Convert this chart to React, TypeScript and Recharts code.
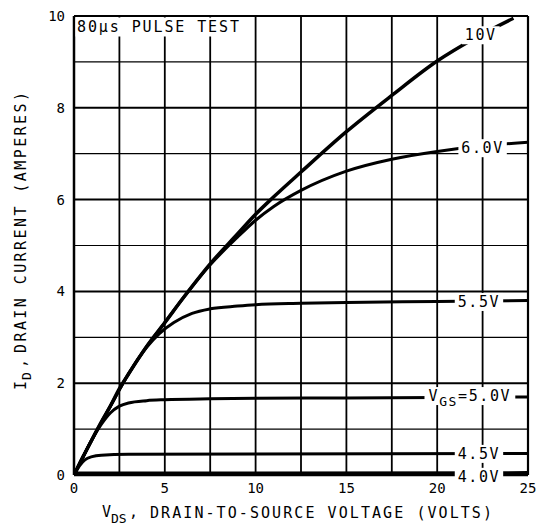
import { LineChart, Line, XAxis, YAxis, ReferenceLine, ReferenceDot } from 'recharts';

const FONT = '"DejaVu Sans Mono", "Liberation Mono", monospace';

// V_DS (volts) / I_D (amps) for each gate voltage
const vds10 = [0, 0.5, 1, 1.5, 2, 2.5, 3, 4, 5, 6, 7.5, 9, 10, 11, 12.5, 15, 17.5, 20, 22, 24.2];
const id10 = [0, 0.4, 0.78, 1.15, 1.5, 1.88, 2.2, 2.8, 3.32, 3.85, 4.6, 5.25, 5.68, 6.06, 6.6, 7.48, 8.27, 9.02, 9.5, 9.95];

const vds60 = [0, 1, 2, 3, 4, 5, 6, 7.5, 9, 10, 11, 12.5, 15, 17.5, 20, 22, 25];
const id60 = [0, 0.78, 1.5, 2.2, 2.8, 3.32, 3.85, 4.58, 5.18, 5.55, 5.85, 6.2, 6.62, 6.88, 7.05, 7.15, 7.25];

const vds55 = [0, 1, 2, 3, 4, 4.7, 5.5, 6.5, 7.5, 9, 10, 12.5, 15, 20, 25];
const id55 = [0, 0.78, 1.5, 2.2, 2.78, 3.08, 3.32, 3.52, 3.62, 3.68, 3.71, 3.74, 3.76, 3.78, 3.8];

const vds50 = [0, 0.5, 1, 1.5, 2, 2.5, 3, 4, 5, 7.5, 10, 15, 20, 25];
const id50 = [0, 0.4, 0.78, 1.1, 1.35, 1.5, 1.57, 1.62, 1.64, 1.66, 1.67, 1.68, 1.69, 1.7];

const vds45 = [0, 0.3, 0.6, 1, 1.5, 3, 10, 25];
const id45 = [0, 0.2, 0.33, 0.4, 0.43, 0.45, 0.46, 0.47];

const vds40 = [0, 25];
const id40 = [0.02, 0.03];

const xTicks = [0, 5, 10, 15, 20, 25];
const yTicks = [0, 2, 4, 6, 8, 10];
const gridX = [2.5, 5, 7.5, 10, 12.5, 15, 17.5, 20, 22.5];
const gridYMajor = [2, 4, 6, 8];
const gridYMinor = [1, 3, 5, 7, 9];

const curveLabels = [
  { text: '10V', sub: '', after: '', x: 22.4, y: 9.58 },
  { text: '6.0V', sub: '', after: '', x: 22.5, y: 7.12 },
  { text: '5.5V', sub: '', after: '', x: 22.3, y: 3.77 },
  { text: 'V', sub: 'GS', after: '=5.0V', x: 21.8, y: 1.72 },
  { text: '4.5V', sub: '', after: '', x: 22.3, y: 0.46 },
  { text: '4.0V', sub: '', after: '', x: 22.3, y: -0.04 },
];

const zip = (xs: number[], ys: number[]) => xs.map((v, i) => ({ vds: v, id: ys[i] }));

const series = [
  { name: '10V', data: zip(vds10, id10), w: 3.5 },
  { name: '6.0V', data: zip(vds60, id60), w: 3 },
  { name: '5.5V', data: zip(vds55, id55), w: 3 },
  { name: '5.0V', data: zip(vds50, id50), w: 3 },
  { name: '4.5V', data: zip(vds45, id45), w: 3 },
  { name: '4.0V', data: zip(vds40, id40), w: 5 },
];

function CurveLabel(props: any) {
  const { cx, cy, item } = props;
  const len = item.text.length + item.sub.length + item.after.length;
  const w = len * 10.6 + 6;
  return (
    <g>
      <rect x={cx - w / 2} y={cy - 9} width={w} height={18} fill="#fff" />
      <text x={cx} y={cy + 5} textAnchor="middle" fontFamily={FONT} fontSize={15} letterSpacing={1.6} fill="#000">
        {item.text}
        {item.sub && (
          <tspan fontSize={13} dy={5}>
            {item.sub}
          </tspan>
        )}
        {item.after && <tspan dy={item.sub ? -5 : 0}>{item.after}</tspan>}
      </text>
    </g>
  );
}

export default function App() {
  return (
    <div style={{ position: 'absolute', left: 0, top: 0, width: 539, height: 525, background: '#fff' }}>
      <LineChart width={539} height={525} margin={{ top: 16, right: 11, left: 0, bottom: 0 }}>
        <XAxis
          type="number"
          dataKey="vds"
          domain={[0, 25]}
          ticks={xTicks}
          allowDataOverflow
          height={50}
          tickLine={false}
          tickSize={6}
          tickMargin={2}
          axisLine={{ stroke: '#000', strokeWidth: 2.5 }}
          tick={{ fontSize: 14, fontFamily: FONT, fill: '#000' }}
        />
        <YAxis
          type="number"
          dataKey="id"
          domain={[0, 10]}
          ticks={yTicks}
          allowDataOverflow
          width={74}
          tickLine={false}
          tickSize={6}
          tickMargin={3}
          axisLine={{ stroke: '#000', strokeWidth: 2.5 }}
          tick={{ fontSize: 14, fontFamily: FONT, fill: '#000' }}
        />
        {gridX.map((x) => (
          <ReferenceLine key={'gx' + x} x={x} stroke="#000" strokeWidth={1.8} />
        ))}
        {gridYMajor.map((y) => (
          <ReferenceLine key={'gy' + y} y={y} stroke="#000" strokeWidth={2} />
        ))}
        {gridYMinor.map((y) => (
          <ReferenceLine key={'gm' + y} y={y} stroke="#000" strokeWidth={1.2} />
        ))}
        <ReferenceLine x={25} stroke="#000" strokeWidth={2.2} />
        <ReferenceLine y={10} stroke="#000" strokeWidth={2.2} />
        {series.map((s) => (
          <Line
            key={s.name}
            data={s.data}
            dataKey="id"
            type="monotone"
            stroke="#000"
            strokeWidth={s.w}
            dot={false}
            activeDot={false}
            isAnimationActive={false}
          />
        ))}
        <ReferenceDot
          x={0}
          y={10}
          r={0}
          ifOverflow="visible"
          shape={(p: any) => (
            <g>
              <rect x={p.cx + 1.5} y={p.cy + 1.5} width={168} height={19} fill="#fff" />
              <text x={p.cx + 3} y={p.cy + 16} textLength={162} fontFamily={FONT} fontSize={15} fill="#000">
                80µs PULSE TEST
              </text>
            </g>
          )}
        />
        {curveLabels.map((l) => (
          <ReferenceDot
            key={l.text + l.after}
            x={l.x}
            y={l.y}
            r={0}
            ifOverflow="visible"
            shape={(p: any) => <CurveLabel {...p} item={l} />}
          />
        ))}
      </LineChart>
      <svg width={539} height={525} style={{ position: 'absolute', left: 0, top: 0, pointerEvents: 'none' }}>
        <g fontFamily={FONT} fill="#000">
          <text x={102} y={517} fontSize={15}>V</text>
          <text x={111} y={523} fontSize={13}>DS</text>
          <text x={129} y={517} fontSize={15}>,</text>
          <text x={150} y={518} fontSize={15} textLength={342}>
            DRAIN-TO-SOURCE VOLTAGE (VOLTS)
          </text>
          <text transform="translate(26,390) rotate(-90)" fontSize={15}>I</text>
          <text transform="translate(31,380) rotate(-90)" fontSize={13}>D</text>
          <text transform="translate(26,368) rotate(-90)" fontSize={15}>,</text>
          <text transform="translate(26,353) rotate(-90)" fontSize={15} textLength={261}>
            DRAIN CURRENT (AMPERES)
          </text>
        </g>
      </svg>
    </div>
  );
}
